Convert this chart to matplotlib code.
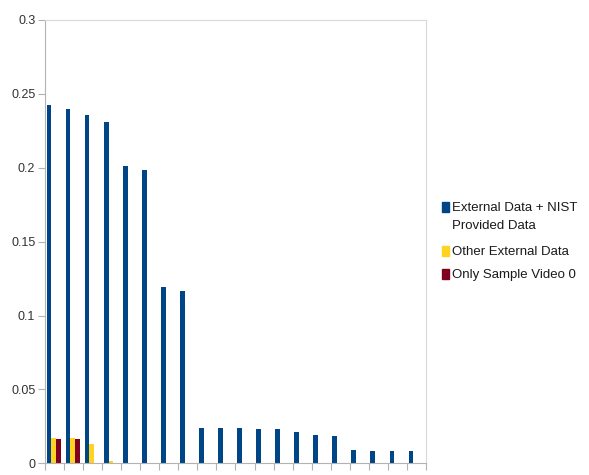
import numpy as np
import matplotlib
matplotlib.use("Agg")
import matplotlib.pyplot as plt
from matplotlib.patches import Rectangle
from matplotlib.ticker import FuncFormatter, MultipleLocator

plt.rcParams['font.family'] = ['Liberation Sans Narrow', 'Liberation Sans', 'DejaVu Sans']

# values (20 categories, no labels)
ext_nist = [0.2428, 0.2397, 0.2358, 0.2309, 0.2015, 0.1986, 0.1196, 0.1164,
            0.0241, 0.0241, 0.0241, 0.0234, 0.0234, 0.0212, 0.0194, 0.0183,
            0.0090, 0.0081, 0.0081, 0.0081]
other_ext = [0.0171, 0.0171, 0.0131, 0.0013] + [0.0] * 16
sample_only = [0.0162, 0.0162] + [0.0] * 18
series_names = ["External Data + NIST\nProvided Data", "Other External Data",
                "Only Sample Video 0"]
colors = ["#004586", "#ffd320", "#7e0021"]

W, H = 589, 475
fig = plt.figure(figsize=(W / 100, H / 100), dpi=100)
ax = fig.add_axes([45 / W, 11.7 / H, 381 / W, 443.3 / H])

x = np.arange(len(ext_nist))
w = 0.25
for vals, off, c in zip([ext_nist, other_ext, sample_only], [-0.29, -0.04, 0.21], colors):
    ax.bar(x + off, vals, width=w, color=c)

ax.set_xlim(-0.5, len(ext_nist) - 0.5)
ax.set_ylim(0, 0.3)
ax.yaxis.set_major_locator(MultipleLocator(0.05))
ax.yaxis.set_major_formatter(FuncFormatter(lambda v, p: f"{v:.2f}".rstrip("0").rstrip(".") if v else "0"))
ax.set_xticks(np.arange(len(ext_nist) + 1) - 0.5)
ax.set_xticklabels([])

for s in ["left", "bottom"]:
    ax.spines[s].set_color("#b3b3b3")
for s in ["top", "right"]:
    ax.spines[s].set_color("#d9d9d9")
ax.tick_params(axis="both", colors="#b3b3b3", length=5, labelcolor="#333333",
               labelsize=9, pad=2)

# legend drawn by hand so the swatch lines up with the first text line
legend_y = [206.7, 251, 274]  # text centre of first line, in pixels from top
for name, c, yc in zip(series_names, colors, legend_y):
    fig.add_artist(Rectangle((441.5 / W, 1 - (yc + 5) / H), 7.5 / W, 10 / H,
                             color=c, transform=fig.transFigure))
    fig.text(452.5 / W, 1 - (yc - 5) / H, name, ha="left", va="top", fontsize=9.5,
             color="#1a1a1a", linespacing=1.75)

fig.savefig("out.png", dpi=100)
